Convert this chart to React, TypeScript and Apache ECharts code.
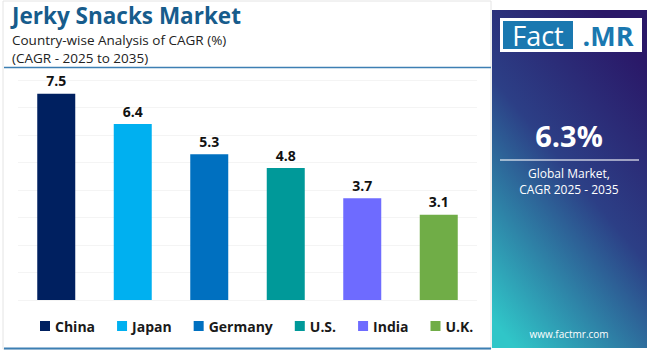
import React, { useEffect, useRef } from "react";
import * as echarts from "echarts";

const categories = ["China", "Japan", "Germany", "U.S.", "India", "U.K."];
const values = [7.5, 6.4, 5.3, 4.8, 3.7, 3.1];
const colors = ["#002060", "#00b0f0", "#0070c0", "#009999", "#6e6bff", "#70ad47"];
const globalCagr = "6.3%";

export default function App() {
  const ref = useRef<HTMLDivElement>(null);
  useEffect(() => {
    if (!ref.current) return;
    const chart = echarts.init(ref.current, undefined, { renderer: "svg" });
    const series = categories.map((name, i) => ({
      name,
      type: "bar",
      stack: "all",
      barWidth: 38,
      itemStyle: { color: colors[i] },
      label: {
        show: true,
        position: "top",
        distance: 6,
        color: "#111",
        fontFamily: "Open Sans",
        fontWeight: "bold",
        fontSize: 14,
        formatter: (p: any) => (p.value == null || p.value === "-" ? "" : String(p.value)),
      },
      data: categories.map((_, j) => (j === i ? values[i] : "-")),
    }));
    chart.setOption({
      animation: false,
      backgroundColor: "#ffffff",
      grid: { left: 18, right: 173, top: 80, bottom: 50, containLabel: false },
      xAxis: {
        type: "category",
        data: categories,
        axisLine: { show: false },
        axisTick: { show: false },
        axisLabel: { show: false },
      },
      yAxis: {
        type: "value",
        min: 0,
        max: 8,
        interval: 1,
        axisLabel: { show: false },
        axisLine: { show: false },
        splitLine: { lineStyle: { color: "#f4f4f4", width: 1 } },
      },
      legend: {
        data: categories,
        left: 35,
        top: 314,
        icon: "rect",
        itemWidth: 10,
        itemHeight: 10,
        itemGap: 22,
        textStyle: { fontFamily: "Open Sans", fontWeight: "bold", fontSize: 14, color: "#1a1a1a" },
      },
      series,
      graphic: [
        { type: "rect", shape: { x: 3, y: 1, width: 488, height: 348 }, style: { fill: "none", stroke: "#e4e4e4", lineWidth: 1 }, silent: true },
        { type: "text", x: 12, y: 15.5, style: { text: "Jerky Snacks Market", fontFamily: "Open Sans", fontWeight: "bold", fontSize: 22.5, fill: "#175c8c", verticalAlign: "middle" } },
        { type: "text", x: 12, y: 40, style: { text: "Country-wise Analysis of CAGR (%)", fontFamily: "Open Sans", fontSize: 13.5, fill: "#222", verticalAlign: "middle" } },
        { type: "text", x: 12, y: 58, style: { text: "(CAGR - 2025 to 2035)", fontFamily: "Open Sans", fontSize: 13.5, fill: "#222", verticalAlign: "middle" } },
        { type: "line", shape: { x1: 4, y1: 67.5, x2: 491, y2: 67.5 }, style: { stroke: "#3d7fb3", lineWidth: 1.5 } },
        { type: "line", shape: { x1: 4, y1: 348.5, x2: 491, y2: 348.5 }, style: { stroke: "#3d7fb3", lineWidth: 2 } },
        {
          type: "rect",
          shape: { x: 492, y: 10, width: 155, height: 338 },
          style: {
            fill: new echarts.graphic.LinearGradient(0.7, 0, 0.15, 1, [
              { offset: 0, color: "#2a1868" },
              { offset: 0.45, color: "#2c3f86" },
              { offset: 1, color: "#30c6c8" },
            ]),
          },
        },
        { type: "rect", shape: { x: 500, y: 18, width: 142, height: 34 }, style: { fill: "#ffffff" } },
        { type: "rect", shape: { x: 503, y: 21, width: 70, height: 28 }, style: { fill: "#1a78b0" } },
        { type: "text", x: 538, y: 35, style: { text: "Fact", fontFamily: "Open Sans", fontSize: 27, fill: "#ffffff", align: "center", verticalAlign: "middle" } },
        { type: "text", x: 608, y: 35, style: { text: ".MR", fontFamily: "Open Sans", fontWeight: "bold", fontSize: 27, fill: "#1a78b0", align: "center", verticalAlign: "middle" } },
        { type: "text", x: 569, y: 135, style: { text: globalCagr, fontFamily: "Open Sans", fontWeight: "bold", fontSize: 29, fill: "#ffffff", align: "center", verticalAlign: "middle" } },
        { type: "line", shape: { x1: 500, y1: 160, x2: 639, y2: 160 }, style: { stroke: "rgba(255,255,255,0.55)", lineWidth: 2 } },
        { type: "text", x: 569, y: 173, style: { text: "Global Market,", fontFamily: "Open Sans", fontSize: 12, fill: "#ffffff", align: "center", verticalAlign: "middle" } },
        { type: "text", x: 569, y: 189, style: { text: "CAGR 2025 - 2035", fontFamily: "Open Sans", fontSize: 12, fill: "#ffffff", align: "center", verticalAlign: "middle" } },
        { type: "text", x: 569, y: 334, style: { text: "www.factmr.com", fontFamily: "Open Sans", fontSize: 10, fill: "#ffffff", align: "center", verticalAlign: "middle" } },
      ],
    });
    return () => chart.dispose();
  }, []);
  return <div ref={ref} style={{ position: "fixed", left: 0, top: 0, width: 650, height: 350 }} />;
}
